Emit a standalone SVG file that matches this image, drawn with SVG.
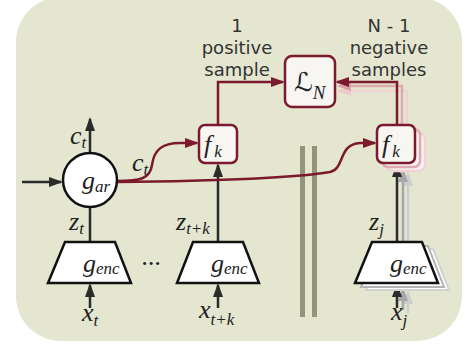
<svg xmlns="http://www.w3.org/2000/svg" width="474" height="347" viewBox="0 0 474 347">
<style>
.lbl{font-family:"DejaVu Sans",sans-serif;font-size:18px;fill:#333;text-anchor:middle}
.m{font-family:"Liberation Serif","DejaVu Serif",serif;font-style:italic;fill:#222}
.big{font-size:26px}
.sub{font-size:17px}
.dk{stroke:#2b2b2b;stroke-width:2.5;fill:none}
.rd{stroke:#7b1a2c;stroke-width:2.5;fill:none}
.box{fill:#f7f6f3;stroke:#7b1a2c;stroke-width:2.5}
.trap{fill:#fff;stroke:#111;stroke-width:2.5;stroke-linejoin:miter}
</style>
<defs>
<marker id="ad" viewBox="0 0 14 10" markerWidth="14" markerHeight="10" refX="12" refY="5" orient="auto" markerUnits="userSpaceOnUse"><path d="M0,0 L14,5 L0,10 z" fill="#2b2b2b"/></marker>
<marker id="ag1" viewBox="0 0 14 10" markerWidth="14" markerHeight="10" refX="12" refY="5" orient="auto" markerUnits="userSpaceOnUse"><path d="M0,0 L14,5 L0,10 z" fill="#a6a6a6"/></marker>
<marker id="ag2" viewBox="0 0 14 10" markerWidth="14" markerHeight="10" refX="12" refY="5" orient="auto" markerUnits="userSpaceOnUse"><path d="M0,0 L14,5 L0,10 z" fill="#cdcdcd"/></marker>
<marker id="ar" viewBox="0 0 14 10" markerWidth="14" markerHeight="10" refX="12" refY="5" orient="auto" markerUnits="userSpaceOnUse"><path d="M0,0 L14,5 L0,10 z" fill="#7b1a2c"/></marker>
<marker id="ap1" viewBox="0 0 14 10" markerWidth="14" markerHeight="10" refX="12" refY="5" orient="auto" markerUnits="userSpaceOnUse"><path d="M0,0 L14,5 L0,10 z" fill="#d9a0a6"/></marker>
<marker id="ap2" viewBox="0 0 14 10" markerWidth="14" markerHeight="10" refX="12" refY="5" orient="auto" markerUnits="userSpaceOnUse"><path d="M0,0 L14,5 L0,10 z" fill="#ecc9cb"/></marker>
</defs>

<rect x="16" y="-3" width="446" height="344" rx="45" fill="#e4e6cf"/>

<g id="separator">
<rect x="300" y="146" width="5" height="171" fill="#93947a"/>
<rect x="312" y="146" width="5" height="171" fill="#93947a"/>
</g>

<g id="pos-label">
<text class="lbl" x="237" y="32">1</text>
<text class="lbl" x="237" y="54">positive</text>
<text class="lbl" x="237" y="76">sample</text>
</g>
<g id="neg-label">
<text class="lbl" x="389" y="32">N - 1</text>
<text class="lbl" x="389" y="54">negative</text>
<text class="lbl" x="389" y="76">samples</text>
</g>

<g id="connectors">
<path class="dk" d="M22,182 H61" marker-end="url(#ad)"/>
<path class="dk" d="M90,153 V119" marker-end="url(#ad)"/>
<path class="dk" d="M90,207 V242"/>
<path class="dk" d="M90,308 V285" marker-end="url(#ad)"/>
<path class="dk" d="M218,242 V165" marker-end="url(#ad)"/>
<path class="dk" d="M218,308 V285" marker-end="url(#ad)"/>
<path stroke="#cdcdcd" stroke-width="2.5" fill="none" d="M408,250 V174" marker-end="url(#ag2)"/>
<path stroke="#a6a6a6" stroke-width="2.5" fill="none" d="M403,246 V170" marker-end="url(#ag1)"/>
<path class="dk" d="M397,242 V165" marker-end="url(#ad)"/>
<path stroke="#cdcdcd" stroke-width="2.5" fill="none" d="M408,313 V292" marker-end="url(#ag2)"/>
<path stroke="#a6a6a6" stroke-width="2.5" fill="none" d="M403,310 V289" marker-end="url(#ag1)"/>
<path class="dk" d="M397,308 V285" marker-end="url(#ad)"/>
<path stroke="#f0d2d3" stroke-width="2.5" fill="none" d="M407,133 V91 H339" marker-end="url(#ap2)"/>
<path stroke="#dfaab0" stroke-width="2.5" fill="none" d="M402,129 V86 H339" marker-end="url(#ap1)"/>
<path class="rd" d="M218,125 V82 H283" marker-end="url(#ar)"/>
<path class="rd" d="M397,125 V82 H337" marker-end="url(#ar)"/>
<path class="rd" d="M117,181 C140,181 150,179 152,165 C154,150 162,143 180,143 H197" marker-end="url(#ar)"/>
<path class="rd" d="M117,182 C220,181 300,177 330,172 C345,169 338,144 360,143 H375" marker-end="url(#ar)"/>
</g>

<g id="g-ar">
<circle cx="90" cy="180" r="27" fill="#fff" stroke="#111" stroke-width="2.5"/>
<text class="m big" x="82" y="189">g<tspan class="sub" dy="3">ar</tspan></text>
</g>
<g id="ct-labels">
<text class="m big" x="70" y="144">c<tspan class="sub" dy="4">t</tspan></text>
<text class="m big" x="132" y="171">c<tspan class="sub" dy="4">t</tspan></text>
</g>

<g id="enc1">
<polygon class="trap" points="65,242 115,242 131,283 48,283"/>
<text class="m big" x="83" y="272">g<tspan class="sub" dy="2">enc</tspan></text>
<text class="m big" x="69" y="230">z<tspan class="sub" dy="4">t</tspan></text>
<text class="m big" x="82" y="321">x<tspan class="sub" dy="5">t</tspan></text>
</g>
<text class="m big" x="142" y="265">...</text>
<g id="enc2">
<polygon class="trap" points="193,242 243,242 259,283 177,283"/>
<text class="m big" x="211" y="272">g<tspan class="sub" dy="2">enc</tspan></text>
<text class="m big" x="176" y="230">z<tspan class="sub" dy="4">t+k</tspan></text>
<text class="m big" x="199" y="318">x<tspan class="sub" dy="7">t+k</tspan></text>
</g>
<g id="enc3">
<polygon points="383,249 433,249 449,290 366,290" fill="#fff" stroke="#d2d2d2" stroke-width="2"/>
<polygon points="378,246 428,246 444,287 361,287" fill="#fff" stroke="#b3b3b3" stroke-width="2"/>
<polygon class="trap" points="372,242 422,242 438,283 355,283"/>
<text class="m big" x="390" y="272">g<tspan class="sub" dy="2">enc</tspan></text>
<text class="m big" x="369" y="230">z<tspan class="sub" dy="5">j</tspan></text>
<text class="m big" x="391" y="320">x<tspan class="sub" dy="6">j</tspan></text>
</g>

<g id="fk1">
<rect class="box" x="199" y="125" width="38" height="38" rx="6"/>
<text class="m big" x="204" y="153">f<tspan class="sub" dx="3" dy="4">k</tspan></text>
</g>
<g id="fk2">
<rect x="387" y="133" width="38" height="38" rx="6" fill="#f7f1f1" stroke="#f0d2d3" stroke-width="2.5"/>
<rect x="382" y="129" width="38" height="38" rx="6" fill="#f7f3f3" stroke="#dfaab0" stroke-width="2.5"/>
<rect class="box" x="377" y="125" width="38" height="38" rx="6"/>
<text class="m big" x="382" y="153">f<tspan class="sub" dx="3" dy="4">k</tspan></text>
</g>

<g id="loss">
<rect class="box" x="285" y="56" width="50" height="51" rx="7"/>
<text x="294" y="91" style="font-family:'DejaVu Serif','DejaVu Sans',serif;font-size:26px;font-style:italic;fill:#222">ℒ<tspan class="m" style="font-size:19px" dx="0" dy="8">N</tspan></text>
</g>
</svg>
